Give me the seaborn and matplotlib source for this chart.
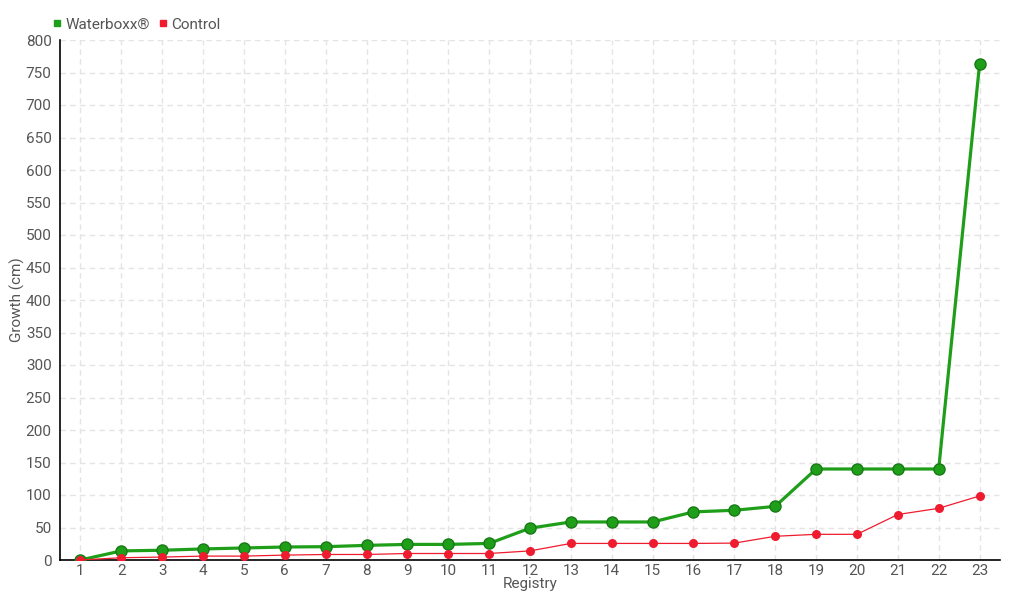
import numpy as np
import pandas as pd
import seaborn as sns
import matplotlib.pyplot as plt

registry = list(range(1, 24))
waterboxx = [0, 14, 15, 17, 18.5, 20, 20.5, 22.5, 24, 24, 25.5, 49, 58.5, 58.5, 58.5,
             74, 76.5, 82.5, 140, 140, 140, 140, 763]
control = [0, 3.5, 4.5, 6, 6, 7.5, 8.5, 8.5, 10, 10, 10, 14, 25.5, 25.5, 25.5,
           25.5, 26, 36.5, 39.5, 39.5, 70, 79.5, 98.5]

green = '#1f9e1a'
red = '#ee1c2e'
txt = '#555555'

sns.set_style('white')
plt.rcParams['font.family'] = ['Roboto', 'DejaVu Sans']

fig = plt.figure(figsize=(10.2, 6), dpi=100)
ax = fig.add_axes([60 / 1020, 40 / 600, 940 / 1020, 520 / 600])

ax.grid(True, color='#e4e4e4', linestyle=(0, (4, 3)), linewidth=1)
ax.set_axisbelow(True)

sns.lineplot(x=registry, y=waterboxx, ax=ax, color=green, linewidth=2.3,
             marker='o', markersize=8, markeredgecolor='#187a16',
             markeredgewidth=1, zorder=3)
sns.lineplot(x=registry, y=control, ax=ax, color=red, linewidth=0.9,
             marker='o', markersize=6.5, markeredgecolor=red,
             markeredgewidth=0, zorder=4)

ax.set_xlim(0.5, 23.5)
ax.set_ylim(0, 800)
ax.set_xticks(registry)
ax.set_yticks(np.arange(0, 801, 50))
ax.tick_params(axis='y', labelsize=11, labelcolor=txt, color='black',
               length=4, width=1, pad=2)
ax.tick_params(axis='x', labelsize=11, labelcolor=txt, color='black',
               length=2, width=1, pad=1)

for side in ['top', 'right']:
    ax.spines[side].set_visible(False)
for side in ['left', 'bottom']:
    ax.spines[side].set_color('black')
    ax.spines[side].set_linewidth(1.2)

ax.set_xlabel('Registry', fontsize=11, color=txt)
ax.xaxis.set_label_coords(0.5, -17 / 520)
ax.set_ylabel('Growth (cm)', fontsize=11, color=txt)
ax.yaxis.set_label_coords(-35 / 940, 0.5)

ax.legend(loc='upper left', bbox_to_anchor=(-0.014, 1.055), ncol=2, frameon=False,
          fontsize=11, labelcolor=txt, handlelength=0.5, handletextpad=0.3,
          columnspacing=0.6, borderaxespad=0,
          handles=[plt.Line2D([], [], marker='s', color=green, linestyle='', markersize=5),
                   plt.Line2D([], [], marker='s', color=red, linestyle='', markersize=5)],
          labels=['Waterboxx®', 'Control'])

fig.savefig('out.png', dpi=100)
